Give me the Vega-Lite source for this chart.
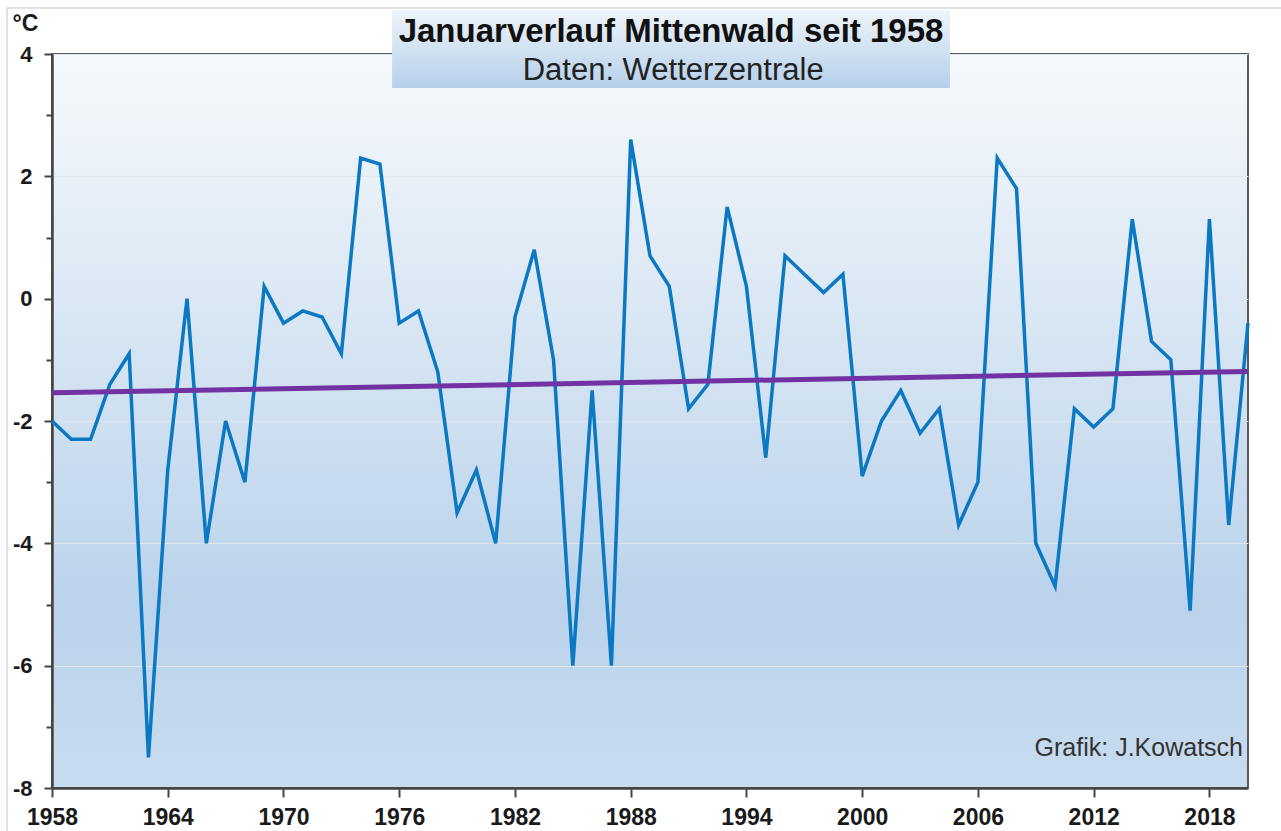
{
  "$schema": "https://vega.github.io/schema/vega-lite/v6.json",
  "width": 1196,
  "height": 734,
  "autosize": {"type": "none"},
  "padding": {"left": 52, "top": 54, "right": 33, "bottom": 43},
  "background": "white",
  "config": {"font": "Liberation Sans"},
  "view": {
    "fill": {"gradient": "linear", "x1": 0, "y1": 0, "x2": 0, "y2": 1,
      "stops": [
        {"offset": 0, "color": "#f6f9fc"},
        {"offset": 0.35, "color": "#dae7f4"},
        {"offset": 0.75, "color": "#bad3eb"},
        {"offset": 1, "color": "#c8dcef"}
      ]},
    "stroke": "#5a5a5a",
    "strokeWidth": 2
  },
  "datasets": {
    "temps": [
      {"Jahr": 1958, "Temperatur": -2.0},
      {"Jahr": 1959, "Temperatur": -2.3},
      {"Jahr": 1960, "Temperatur": -2.3},
      {"Jahr": 1961, "Temperatur": -1.4},
      {"Jahr": 1962, "Temperatur": -0.9},
      {"Jahr": 1963, "Temperatur": -7.5},
      {"Jahr": 1964, "Temperatur": -2.8},
      {"Jahr": 1965, "Temperatur": 0.0},
      {"Jahr": 1966, "Temperatur": -4.0},
      {"Jahr": 1967, "Temperatur": -2.0},
      {"Jahr": 1968, "Temperatur": -3.0},
      {"Jahr": 1969, "Temperatur": 0.2},
      {"Jahr": 1970, "Temperatur": -0.4},
      {"Jahr": 1971, "Temperatur": -0.2},
      {"Jahr": 1972, "Temperatur": -0.3},
      {"Jahr": 1973, "Temperatur": -0.9},
      {"Jahr": 1974, "Temperatur": 2.3},
      {"Jahr": 1975, "Temperatur": 2.2},
      {"Jahr": 1976, "Temperatur": -0.4},
      {"Jahr": 1977, "Temperatur": -0.2},
      {"Jahr": 1978, "Temperatur": -1.2},
      {"Jahr": 1979, "Temperatur": -3.5},
      {"Jahr": 1980, "Temperatur": -2.8},
      {"Jahr": 1981, "Temperatur": -4.0},
      {"Jahr": 1982, "Temperatur": -0.3},
      {"Jahr": 1983, "Temperatur": 0.8},
      {"Jahr": 1984, "Temperatur": -1.0},
      {"Jahr": 1985, "Temperatur": -6.0},
      {"Jahr": 1986, "Temperatur": -1.5},
      {"Jahr": 1987, "Temperatur": -6.0},
      {"Jahr": 1988, "Temperatur": 2.6},
      {"Jahr": 1989, "Temperatur": 0.7},
      {"Jahr": 1990, "Temperatur": 0.2},
      {"Jahr": 1991, "Temperatur": -1.8},
      {"Jahr": 1992, "Temperatur": -1.4},
      {"Jahr": 1993, "Temperatur": 1.5},
      {"Jahr": 1994, "Temperatur": 0.2},
      {"Jahr": 1995, "Temperatur": -2.6},
      {"Jahr": 1996, "Temperatur": 0.7},
      {"Jahr": 1997, "Temperatur": 0.4},
      {"Jahr": 1998, "Temperatur": 0.1},
      {"Jahr": 1999, "Temperatur": 0.4},
      {"Jahr": 2000, "Temperatur": -2.9},
      {"Jahr": 2001, "Temperatur": -2.0},
      {"Jahr": 2002, "Temperatur": -1.5},
      {"Jahr": 2003, "Temperatur": -2.2},
      {"Jahr": 2004, "Temperatur": -1.8},
      {"Jahr": 2005, "Temperatur": -3.7},
      {"Jahr": 2006, "Temperatur": -3.0},
      {"Jahr": 2007, "Temperatur": 2.3},
      {"Jahr": 2008, "Temperatur": 1.8},
      {"Jahr": 2009, "Temperatur": -4.0},
      {"Jahr": 2010, "Temperatur": -4.7},
      {"Jahr": 2011, "Temperatur": -1.8},
      {"Jahr": 2012, "Temperatur": -2.1},
      {"Jahr": 2013, "Temperatur": -1.8},
      {"Jahr": 2014, "Temperatur": 1.3},
      {"Jahr": 2015, "Temperatur": -0.7},
      {"Jahr": 2016, "Temperatur": -1.0},
      {"Jahr": 2017, "Temperatur": -5.1},
      {"Jahr": 2018, "Temperatur": 1.3},
      {"Jahr": 2019, "Temperatur": -3.7},
      {"Jahr": 2020, "Temperatur": -0.4}
    ],
    "trend": [
      {"Jahr": 1958, "Trend": -1.54},
      {"Jahr": 2020, "Trend": -1.19}
    ]
  },
  "layer": [
    {
      "data": {"name": "temps"},
      "mark": {"type": "line", "color": "#0a78c2", "strokeWidth": 3.5, "clip": false},
      "encoding": {
        "x": {
          "field": "Jahr", "type": "quantitative",
          "scale": {"domain": [1958, 2020], "nice": false, "zero": false},
          "axis": {
            "values": [1958, 1964, 1970, 1976, 1982, 1988, 1994, 2000, 2006, 2012, 2018],
            "format": "d",
            "title": null,
            "grid": false,
            "labelFontSize": 23,
            "labelFontWeight": "bold",
            "labelColor": "#1a1a1a",
            "labelPadding": 9,
            "labelFlush": false,
            "labelOverlap": false,
            "tickSize": 9,
            "tickWidth": 2,
            "tickColor": "#444",
            "domainColor": "#444",
            "domainWidth": 2.5
          }
        },
        "y": {
          "field": "Temperatur", "type": "quantitative",
          "scale": {"domain": [-8, 4], "nice": false, "zero": false},
          "axis": {
            "values": [-8, -7, -6, -5, -4, -3, -2, -1, 0, 1, 2, 3, 4],
            "labelExpr": "datum.value % 2 === 0 ? '' + datum.value : ''",
            "title": "°C",
            "titleAngle": 0,
            "titleAlign": "left",
            "titleBaseline": "top",
            "titleX": -40,
            "titleY": -42,
            "titleFontSize": 23,
            "titleFontWeight": "bold",
            "titleColor": "#1a1a1a",
            "labelFontSize": 22,
            "labelFontWeight": "bold",
            "labelColor": "#1a1a1a",
            "labelPadding": 12,
            "tickSize": {"condition": {"test": "datum.value % 2 !== 0", "value": 6}, "value": 8},
            "tickWidth": 2,
            "tickColor": "#444",
            "domainColor": "#444",
            "domainWidth": 2.5,
            "grid": true,
            "gridColor": {"condition": {"test": "datum.value % 2 !== 0", "value": "rgba(0,0,0,0)"}, "value": "#dfe5ec"},
            "gridWidth": 1.2
          }
        }
      }
    },
    {
      "data": {"name": "trend"},
      "mark": {"type": "line", "color": "#7332a3", "strokeWidth": 5, "clip": false},
      "encoding": {
        "x": {"field": "Jahr", "type": "quantitative"},
        "y": {"field": "Trend", "type": "quantitative"}
      }
    },
    {
      "data": {"values": [{"box": "Rahmen"}]},
      "mark": {"type": "rect", "clip": false, "fill": null, "filled": false, "stroke": "#d9d9d9", "strokeWidth": 1.5},
      "encoding": {
        "x": {"datum": 1955.67, "type": "quantitative"},
        "x2": {"datum": 2023.5},
        "y": {"datum": 4.752, "type": "quantitative"},
        "y2": {"datum": -9.5}
      }
    },
    {
      "data": {"values": [{"box": "Titel"}]},
      "mark": {
        "type": "rect", "clip": false,
        "color": {"gradient": "linear", "x1": 0, "y1": 0, "x2": 0, "y2": 1,
          "stops": [
            {"offset": 0, "color": "#eef4fa"},
            {"offset": 1, "color": "#b6d0ea"}
          ]}
      },
      "encoding": {
        "x": {"datum": 1975.63, "type": "quantitative"},
        "x2": {"datum": 2004.55},
        "y": {"datum": 4.72, "type": "quantitative"},
        "y2": {"datum": 3.444}
      }
    },
    {
      "data": {"values": [{"label": "Januarverlauf Mittenwald seit 1958"}]},
      "mark": {"type": "text", "clip": false, "fontSize": 33, "fontWeight": "bold", "color": "#111", "align": "center", "baseline": "alphabetic"},
      "encoding": {
        "text": {"field": "label"},
        "x": {"datum": 1990.09, "type": "quantitative"},
        "y": {"datum": 4.196, "type": "quantitative"}
      }
    },
    {
      "data": {"values": [{"label": "Daten: Wetterzentrale"}]},
      "mark": {"type": "text", "clip": false, "fontSize": 31, "color": "#222", "align": "center", "baseline": "alphabetic"},
      "encoding": {
        "text": {"field": "label"},
        "x": {"datum": 1990.2, "type": "quantitative"},
        "y": {"datum": 3.58, "type": "quantitative"}
      }
    },
    {
      "data": {"values": [{"label": "Grafik: J.Kowatsch"}]},
      "mark": {"type": "text", "clip": false, "fontSize": 25, "color": "#333", "align": "right", "baseline": "alphabetic", "dx": -5},
      "encoding": {
        "text": {"field": "label"},
        "x": {"datum": 2020, "type": "quantitative"},
        "y": {"datum": -7.476, "type": "quantitative"}
      }
    }
  ]
}
